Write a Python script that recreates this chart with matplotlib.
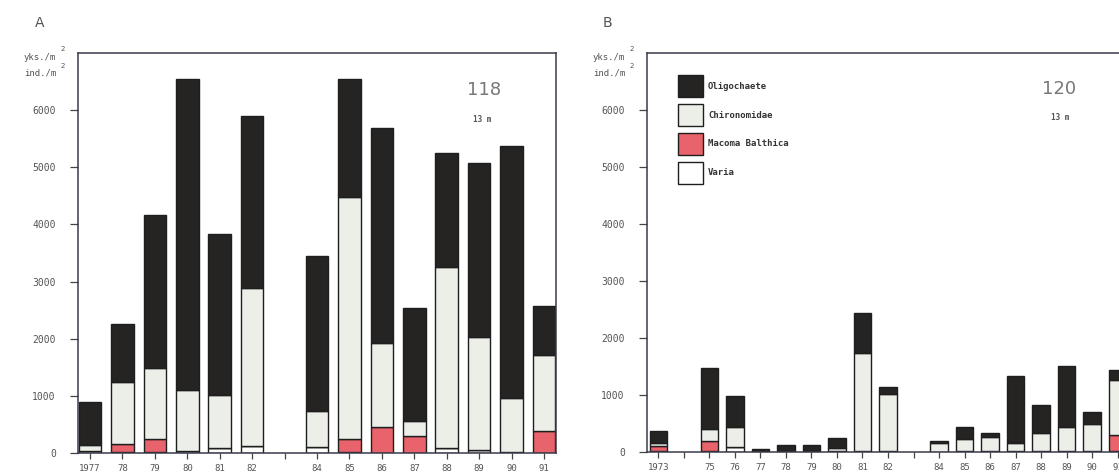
import numpy as np
from matplotlib import pyplot as plt
from matplotlib.patches import Patch

# Panel A - station 118, 13 m
years_a = [1977, 1978, 1979, 1980, 1981, 1982, 1984, 1985, 1986, 1987, 1988, 1989, 1990, 1991]
varia_a = [40, 20, 10, 30, 80, 120, 100, 15, 0, 0, 80, 50, 20, 0]
macoma_a = [0, 130, 240, 0, 0, 0, 0, 230, 450, 300, 0, 0, 0, 390]
chiro_a = [100, 1100, 1230, 1070, 930, 2760, 640, 4235, 1480, 260, 3180, 1985, 950, 1325]
oligo_a = [746, 1000, 2680, 5450, 2830, 3020, 2710, 2070, 3760, 1980, 1990, 3045, 4410, 865]
ticks_a = [1977, 1978, 1979, 1980, 1981, 1982, 1983, 1984, 1985, 1986, 1987, 1988, 1989, 1990, 1991]
ticklabels_a = ["1977", "78", "79", "80", "81", "82", "", "84", "85", "86", "87", "88", "89", "90", "91"]

# Panel B - station 120, 13 m
years_b = [1973, 1975, 1976, 1977, 1978, 1979, 1980, 1981, 1982, 1984, 1985, 1986, 1987, 1988, 1989, 1990, 1991]
varia_b = [20, 20, 80, 0, 0, 0, 20, 20, 20, 0, 20, 20, 20, 20, 20, 20, 15]
macoma_b = [90, 170, 0, 0, 0, 0, 0, 0, 0, 0, 0, 0, 0, 0, 0, 0, 290]
chiro_b = [50, 205, 350, 0, 0, 0, 50, 1720, 1005, 150, 200, 245, 140, 315, 415, 475, 965]
oligo_b = [205, 1080, 550, 60, 120, 120, 180, 690, 120, 40, 220, 60, 1170, 485, 1070, 205, 165]
ticks_b = list(range(1973, 1992))
ticklabels_b = ["1973", "", "75", "76", "77", "78", "79", "80", "81", "82", "",
                "84", "85", "86", "87", "88", "89", "90", "91"]

c_oligo = "#252423"
c_chiro = "#eceee8"
c_macoma = "#e8636c"
c_varia = "#ffffff"
txt = "#555555"
edge = "#1e1e1e"

fig = plt.figure(figsize=(11.19, 4.76), dpi=100)
W, H = 1119, 476


def make_axes(left, right, top, bottom):
    return fig.add_axes([left / W, (H - bottom) / H, (right - left) / W, (bottom - top) / H])


def draw(ax, years, varia, macoma, chiro, oligo, width):
    years = np.array(years)
    base = np.zeros(len(years))
    for vals, col in [(varia, c_varia), (macoma, c_macoma), (chiro, c_chiro), (oligo, c_oligo)]:
        vals = np.array(vals, dtype=float)
        ax.bar(years, vals, width, bottom=base, color=col, edgecolor=edge, linewidth=1.0)
        base = base + vals


def style(ax, ticks, labels):
    ax.set_ylim(0, 7000)
    ax.set_yticks([0, 1000, 2000, 3000, 4000, 5000, 6000])
    ax.set_yticklabels(["0", "1000", "2000", "3000", "4000", "5000", "6000"],
                       fontsize=7, color=txt, family="DejaVu Sans Mono")
    ax.set_xticks(ticks)
    ax.set_xticklabels(labels, fontsize=6.5, color=txt, family="DejaVu Sans Mono")
    ax.tick_params(axis="y", direction="out", length=6, width=0.9, pad=10, colors="#444")
    ax.tick_params(axis="x", direction="out", length=4, width=0.9, pad=4, colors="#444")
    for lbl in ax.get_xticklabels() + ax.get_yticklabels():
        lbl.set_color(txt)
    for s in ax.spines.values():
        s.set_color("#3a3a4a")
        s.set_linewidth(1.1)


axA = make_axes(78, 556, 53, 453)
draw(axA, years_a, varia_a, macoma_a, chiro_a, oligo_a, 0.7)
axA.set_xlim(1976.63, 1991.37)
style(axA, ticks_a, ticklabels_a)

axB = make_axes(647, 1129, 53, 452)
draw(axB, years_b, varia_b, macoma_b, chiro_b, oligo_b, 0.69)
axB.set_xlim(1972.55, 1991.45)
style(axB, ticks_b, ticklabels_b)

# panel letters, units, station labels
fig.text(40 / W, 1 - 23 / H, "A", fontsize=10, color=txt, ha="center", va="center")
fig.text(607 / W, 1 - 23 / H, "B", fontsize=10, color=txt, ha="center", va="center")
for x0 in (56, 625):
    fig.text(x0 / W, 1 - 58 / H, "yks./m", fontsize=6.5, color=txt, ha="right", va="center",
             family="DejaVu Sans Mono")
    fig.text((x0 + 7) / W, 1 - 49 / H, "2", fontsize=5, color=txt, ha="center", va="center")
    fig.text(x0 / W, 1 - 73 / H, "ind./m", fontsize=6.5, color=txt, ha="right", va="center",
             family="DejaVu Sans Mono")
    fig.text((x0 + 7) / W, 1 - 66 / H, "2", fontsize=5, color=txt, ha="center", va="center")

fig.text(484 / W, 1 - 90 / H, "118", fontsize=13, color="#777", ha="center", va="center")
fig.text(482 / W, 1 - 120 / H, "13 m", fontsize=5.5, color=txt, ha="center", va="center",
         family="DejaVu Sans Mono", fontweight="bold")
fig.text(1059 / W, 1 - 89 / H, "120", fontsize=13, color="#777", ha="center", va="center")
fig.text(1060 / W, 1 - 117 / H, "13 m", fontsize=5.5, color=txt, ha="center", va="center",
         family="DejaVu Sans Mono", fontweight="bold")

handles = [Patch(facecolor=c_oligo, edgecolor=edge, linewidth=1.0),
           Patch(facecolor=c_chiro, edgecolor=edge, linewidth=1.0),
           Patch(facecolor=c_macoma, edgecolor=edge, linewidth=1.0),
           Patch(facecolor=c_varia, edgecolor=edge, linewidth=1.0)]
names = ["Oligochaete", "Chironomidae", "Macoma Balthica", "Varia"]
axB.legend(handles, names, loc="upper left", bbox_to_anchor=(0.064, 0.945), frameon=False,
           borderpad=0, borderaxespad=0, handlelength=2.8, handleheight=3.4,
           labelspacing=0.75, handletextpad=0.55,
           prop={"family": "DejaVu Sans Mono", "size": 6.5, "weight": "bold"},
           labelcolor="#333")

plt.savefig("out.png", dpi=100)
